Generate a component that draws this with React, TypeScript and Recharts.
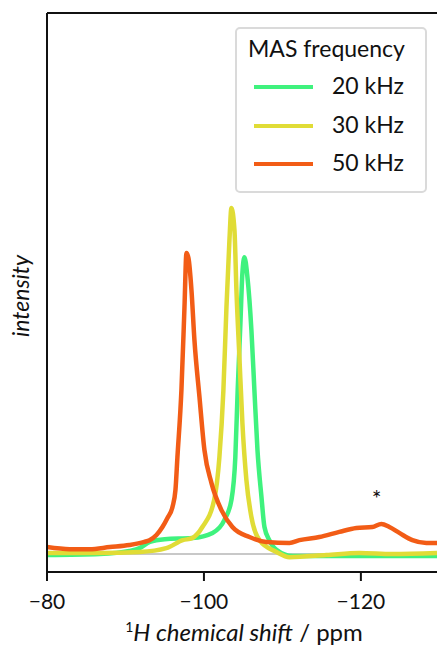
import { LineChart, Line, XAxis, YAxis, ReferenceLine, ReferenceDot } from 'recharts'

// chemical shift (ppm) and intensity
const shift20 = [-80, -86.7, -90.5, -91.8, -93.1, -95.0, -98.5, -101.1, -102.6, -103.5, -104.0, -104.3, -104.65, -104.9, -105.16, -105.54, -106.05, -106.43, -106.82, -107.33, -107.71, -108.34, -109.24, -111.3, -118.5, -129.7]
const int20 = [-0.003, 0, 0.009, 0.017, 0.035, 0.043, 0.046, 0.061, 0.098, 0.156, 0.28, 0.474, 0.668, 0.812, 0.858, 0.801, 0.647, 0.474, 0.301, 0.165, 0.078, 0.04, 0.012, -0.006, -0.006, -0.006]

const shift30 = [-80, -86.7, -91.8, -95.2, -97.3, -98.5, -99.8, -101.3, -101.97, -102.48, -102.87, -103.25, -103.5, -103.89, -104.14, -104.52, -104.9, -105.41, -106.05, -107.07, -109.24, -110.9, -115.6, -119.8, -124.0, -129.7]
const int30 = [0.003, 0.003, 0.006, 0.017, 0.04, 0.046, 0.078, 0.156, 0.28, 0.474, 0.714, 0.908, 1.0, 0.936, 0.763, 0.569, 0.379, 0.214, 0.107, 0.04, 0.006, -0.009, -0.003, 0.003, 0, 0.003]

const shift50 = [-80, -82.9, -85.4, -88.0, -90.5, -92.4, -93.06, -93.95, -94.71, -95.35, -95.99, -96.37, -96.62, -97.13, -97.52, -97.77, -98.03, -98.41, -98.79, -99.43, -100.06, -100.96, -102.23, -103.63, -105.8, -107.96, -110.9, -112.17, -114.71, -117.26, -119.43, -121.46, -122.61, -123.63, -124.9, -126.56, -128.34, -129.7]
const int50 = [0.02, 0.014, 0.014, 0.02, 0.026, 0.035, 0.04, 0.055, 0.078, 0.104, 0.136, 0.185, 0.28, 0.474, 0.714, 0.87, 0.855, 0.763, 0.618, 0.454, 0.301, 0.205, 0.127, 0.078, 0.049, 0.035, 0.032, 0.04, 0.049, 0.064, 0.075, 0.078, 0.087, 0.078, 0.061, 0.04, 0.032, 0.032]

const xTicks = [-120, -100, -80]
const legendTitle = 'MAS frequency'
const seriesNames = ['20 kHz', '30 kHz', '50 kHz']
const seriesColors = ['#3ff27e', '#e0dc36', '#f25c16']

const toRows = (xs: number[], ys: number[]) => xs.map((ppm, i) => ({ ppm, v: ys[i] }))
const series = [toRows(shift20, int20), toRows(shift30, int30), toRows(shift50, int50)]

const font = 'Lato, "Open Sans", sans-serif'
const minus = (v: number) => (v < 0 ? `\u2212${Math.abs(v)}` : `${v}`)

export default function App() {
  return (
    <div style={{ position: 'absolute', left: 0, top: 0, width: 437, height: 652, overflow: 'hidden', background: '#fff', fontFamily: font }}>
      <LineChart width={437} height={652} margin={{ top: 12, right: 0, bottom: 0, left: 46 }}>
        <XAxis
          type="number"
          dataKey="ppm"
          domain={[-129.7, -80]}
          reversed
          allowDataOverflow
          ticks={xTicks}
          tickFormatter={minus}
          height={80}
          tickSize={9}
          tickMargin={13}
          axisLine={{ stroke: '#111', strokeWidth: 2 }}
          tickLine={{ stroke: '#111', strokeWidth: 2 }}
          tick={{ fill: '#111', fontSize: 21, fontFamily: font }}
        />
        <XAxis
          xAxisId="top"
          orientation="top"
          type="number"
          domain={[-129.7, -80]}
          reversed
          height={1}
          tick={false}
          tickLine={false}
          axisLine={{ stroke: '#111', strokeWidth: 2 }}
        />
        <YAxis
          type="number"
          domain={[-0.052, 1.564]}
          allowDataOverflow
          width={1}
          tick={false}
          tickLine={false}
          axisLine={{ stroke: '#111', strokeWidth: 2 }}
        />
        <ReferenceLine y={0} stroke="#c8c8c8" strokeWidth={2} />
        {series.map((rows, i) => (
          <Line
            key={seriesNames[i]}
            data={rows}
            dataKey="v"
            type="monotone"
            stroke={seriesColors[i]}
            strokeWidth={4.5}
            dot={false}
            isAnimationActive={false}
          />
        ))}
        <ReferenceDot
          x={-122}
          y={0.179}
          r={0}
          fill="none"
          stroke="none"
          label={{ value: '*', position: 'center', fill: '#111', fontSize: 23, fontFamily: font, dy: 7 }}
        />
      </LineChart>

      <div style={{ position: 'absolute', left: 8, top: 296, transform: 'translate(-50%, -50%) rotate(-90deg)', transformOrigin: 'center', marginLeft: 12, fontSize: 23, fontStyle: 'italic', color: '#111', whiteSpace: 'nowrap' }}>
        intensity
      </div>
      <div style={{ position: 'absolute', left: 0, width: 488, top: 617, textAlign: 'center', fontSize: 24, color: '#111', whiteSpace: 'nowrap' }}>
        <span style={{ fontStyle: 'italic' }}><sup style={{ fontSize: 14, fontStyle: 'normal' }}>1</sup>H chemical shift</span> / ppm
      </div>

      <div style={{ position: 'absolute', left: 235, top: 27, width: 188, height: 162, border: '2px solid #dadada', borderRadius: 5, background: '#fff', color: '#111' }}>
        <div style={{ position: 'absolute', left: 11, top: 5, fontSize: 23, whiteSpace: 'nowrap' }}>{legendTitle}</div>
        {seriesNames.map((n, i) => (
          <div key={n}>
            <div style={{ position: 'absolute', left: 17, top: 56 + i * 38.5, width: 59, height: 4, background: seriesColors[i] }} />
            <div style={{ position: 'absolute', left: 95, top: 42 + i * 38.5, fontSize: 23, whiteSpace: 'nowrap' }}>{n}</div>
          </div>
        ))}
      </div>
    </div>
  )
}
